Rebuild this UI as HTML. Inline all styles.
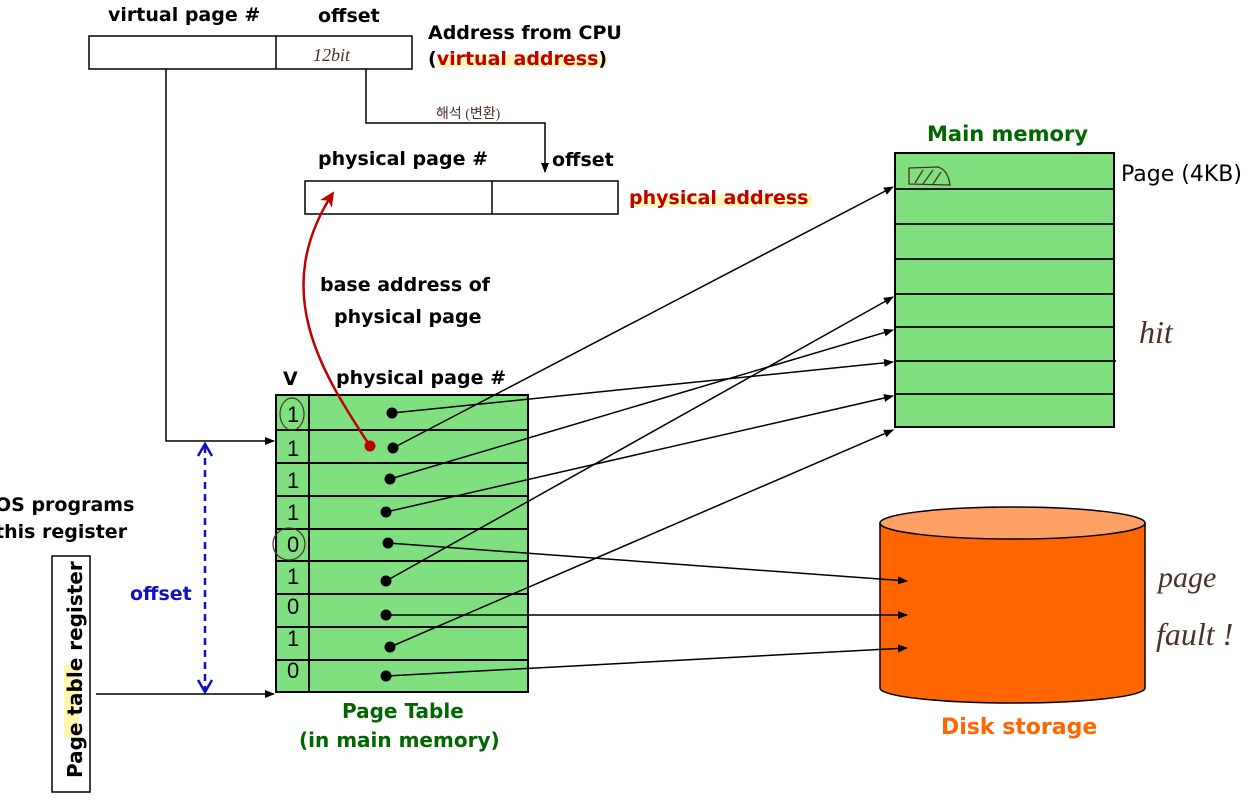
<!DOCTYPE html>
<html><head><meta charset="utf-8"><style>
html,body{margin:0;padding:0;background:#fff;}
svg{display:block;}
text{font-family:"DejaVu Sans","Liberation Sans",sans-serif;font-weight:bold;}
.h{font-family:"Liberation Serif","Noto Sans CJK KR",serif;font-weight:normal;fill:#4a3228;font-style:italic;}
.d{font-family:"Liberation Sans",sans-serif;font-weight:normal;font-size:22px;}
</style></head><body>
<svg width="1257" height="812" viewBox="0 0 1257 812" xmlns="http://www.w3.org/2000/svg">
<defs>
<marker id="a" markerWidth="10" markerHeight="8" refX="9" refY="4" orient="auto" markerUnits="userSpaceOnUse"><path d="M0,0 L10,4 L0,8 z" fill="#000"/></marker>
<marker id="r" markerWidth="16" markerHeight="14" refX="13" refY="7" orient="auto" markerUnits="userSpaceOnUse"><path d="M0,0 L15,7 L0,14 L4,7 z" fill="#c00000"/></marker>
</defs>

<!-- top labels -->
<text x="108" y="21" font-size="19">virtual page #</text>
<text x="318" y="22" font-size="19">offset</text>
<text x="428" y="39" font-size="19">Address from CPU</text>
<rect x="437" y="55" width="170" height="12" fill="#fff59a" opacity="0.7"/>
<text x="428" y="65" font-size="19">(<tspan fill="#c00000">virtual address</tspan>)</text>
<rect x="89" y="36" width="323" height="33" fill="none" stroke="#000" stroke-width="1.5"/>
<line x1="276" y1="36" x2="276" y2="69" stroke="#000" stroke-width="1.5"/>
<text class="h" x="313" y="61" font-size="18">12bit</text>

<!-- offset path -->
<polyline points="366,69 366,123 545,123 545,172" fill="none" stroke="#000" stroke-width="1.5" marker-end="url(#a)"/>
<text class="h" x="436" y="118" font-size="14" style="font-style:normal">해석 (변환)</text>

<text x="318" y="165" font-size="19">physical page #</text>
<text x="552" y="166" font-size="19">offset</text>
<rect x="305" y="181" width="313" height="33" fill="none" stroke="#000" stroke-width="1.5"/>
<line x1="492" y1="181" x2="492" y2="214" stroke="#000" stroke-width="1.5"/>
<rect x="632" y="195" width="180" height="12" fill="#fff59a" opacity="0.7"/>
<text x="629" y="204" font-size="19" fill="#c00000">physical address</text>

<text x="320" y="291" font-size="19">base address of</text>
<text x="334" y="323" font-size="19">physical page</text>

<!-- virtual page line -->
<polyline points="166,69 166,441 274,441" fill="none" stroke="#000" stroke-width="1.5" marker-end="url(#a)"/>

<!-- page table -->
<text x="283" y="385" font-size="19">V</text>
<text x="336" y="384" font-size="19">physical page #</text>
<rect x="276" y="395" width="252" height="297" fill="#80e080" stroke="#000" stroke-width="2"/>
<line x1="309" y1="395" x2="309" y2="692" stroke="#000" stroke-width="2"/>
<g stroke="#000" stroke-width="2">
<line x1="276" y1="430" x2="528" y2="430"/><line x1="276" y1="463" x2="528" y2="463"/>
<line x1="276" y1="496" x2="528" y2="496"/><line x1="276" y1="529" x2="528" y2="529"/>
<line x1="276" y1="561" x2="528" y2="561"/><line x1="276" y1="594" x2="528" y2="594"/>
<line x1="276" y1="627" x2="528" y2="627"/><line x1="276" y1="660" x2="528" y2="660"/>
</g>
<text class="d" x="287" y="422">1</text>
<text class="d" x="287" y="456">1</text>
<text class="d" x="287" y="488">1</text>
<text class="d" x="287" y="520">1</text>
<text class="d" x="287" y="552">0</text>
<text class="d" x="287" y="584">1</text>
<text class="d" x="287" y="614">0</text>
<text class="d" x="287" y="646">1</text>
<text class="d" x="287" y="678">0</text>
<ellipse cx="292" cy="414" rx="12" ry="16" fill="none" stroke="#4a3228" stroke-width="1.2"/>
<ellipse cx="289" cy="544" rx="16" ry="16" fill="none" stroke="#4a3228" stroke-width="1.2"/>
<text x="342" y="718" font-size="20" fill="#006600">Page Table</text>
<text x="299" y="747" font-size="20" fill="#006600">(in main memory)</text>

<!-- main memory -->
<text x="927" y="141" font-size="21" fill="#006600">Main memory</text>
<rect x="895" y="153" width="219" height="274" fill="#80e080" stroke="#000" stroke-width="2"/>
<g stroke="#000" stroke-width="1.8">
<line x1="895" y1="189" x2="1114" y2="189"/><line x1="895" y1="224" x2="1114" y2="224"/>
<line x1="895" y1="259" x2="1114" y2="259"/><line x1="895" y1="294" x2="1114" y2="294"/>
<line x1="895" y1="327" x2="1114" y2="327"/><line x1="895" y1="361" x2="1116" y2="361"/>
<line x1="895" y1="394" x2="1114" y2="394"/>
</g>
<path d="M909,184 L909,168 L938,167 Q948,170 950,185 Z M915,183 L923,170 M923,184 L933,170 M933,184 L941,172" fill="none" stroke="#4a3228" stroke-width="1.3"/>
<text x="1121" y="181" font-size="22" style="font-weight:normal">Page (4KB)</text>
<text class="h" x="1139" y="343" font-size="32">hit</text>

<!-- disk -->
<path d="M880,523 L880,688 A132,15 0 0 0 1145,688 L1145,523 Z" fill="#ff6600" stroke="#000" stroke-width="1.5"/>
<ellipse cx="1012.5" cy="523" rx="132.5" ry="16" fill="#ffa066" stroke="#000" stroke-width="1.5"/>
<text x="941" y="734" font-size="22" fill="#ff6600">Disk storage</text>
<text class="h" x="1158" y="587" font-size="30">page</text>
<text class="h" x="1156" y="645" font-size="32">fault !</text>

<!-- arrows -->
<g stroke="#000" stroke-width="1.5" fill="none" marker-end="url(#a)">
<line x1="392" y1="413" x2="893" y2="362"/>
<line x1="393" y1="448" x2="893" y2="187"/>
<line x1="390" y1="479" x2="893" y2="330"/>
<line x1="386" y1="512" x2="893" y2="396"/>
<line x1="388" y1="543" x2="907" y2="581"/>
<line x1="386" y1="581" x2="893" y2="297"/>
<line x1="386" y1="615" x2="907" y2="615"/>
<line x1="390" y1="647" x2="893" y2="430"/>
<line x1="386" y1="676" x2="907" y2="648"/>
</g>
<g fill="#000">
<circle cx="392" cy="413" r="5.5"/><circle cx="393" cy="448" r="5.5"/><circle cx="390" cy="479" r="5.5"/>
<circle cx="386" cy="512" r="5.5"/><circle cx="388" cy="543" r="5.5"/><circle cx="386" cy="581" r="5.5"/>
<circle cx="386" cy="615" r="5.5"/><circle cx="390" cy="647" r="5.5"/><circle cx="386" cy="676" r="5.5"/>
</g>

<!-- red curve -->
<path d="M370,446 C320,370 270,290 333,193" fill="none" stroke="#c00000" stroke-width="2.5" marker-end="url(#r)"/>
<circle cx="370" cy="446" r="5.5" fill="#c00000"/>

<!-- offset dashed -->
<line x1="205" y1="446" x2="205" y2="690" stroke="#1010c0" stroke-width="2.5" stroke-dasharray="7,5"/>
<path d="M198,456 L205,444 L212,456 M198,680 L205,692 L212,680" fill="none" stroke="#1010c0" stroke-width="2.5"/>
<text x="130" y="600" font-size="19" fill="#1010c0">offset</text>

<!-- register -->
<text x="-5" y="511" font-size="19">OS programs</text>
<text x="-5" y="538" font-size="19">this register</text>
<rect x="52" y="556" width="38" height="236" fill="none" stroke="#000" stroke-width="1.5"/>
<rect x="64" y="665" width="15" height="72" fill="#fff59a" opacity="0.8"/>
<text transform="translate(82,778) rotate(-90)" font-size="20">Page table register</text>
<line x1="96" y1="694" x2="274" y2="694" stroke="#000" stroke-width="1.5" marker-end="url(#a)"/>
</svg>
</body></html>
